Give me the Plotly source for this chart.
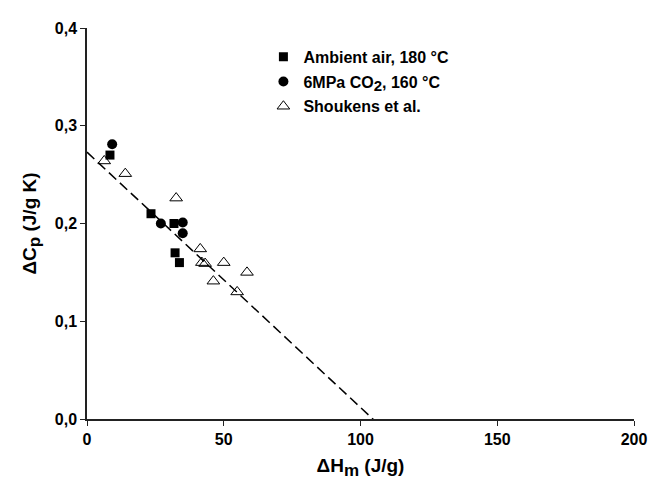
import plotly.graph_objects as go

# Data
air_x = [8.4, 23.4, 31.8, 32.2, 33.8]
air_y = [0.270, 0.210, 0.200, 0.170, 0.160]
co2_x = [9.2, 27.0, 35.0, 35.0]
co2_y = [0.281, 0.200, 0.201, 0.190]
shk_x = [6.3, 14.0, 32.6, 41.4, 42.0, 43.2, 50.0, 46.2, 58.5, 54.9]
shk_y = [0.264, 0.251, 0.226, 0.174, 0.160, 0.159, 0.160, 0.141, 0.150, 0.130]
fit_x = [0.0, 106.5]
fit_y = [0.273, -0.0052]

x_ticks = [0, 50, 100, 150, 200]
x_ticktext = ["0", "50", "100", "150", "200"]
y_ticks = [0.0, 0.1, 0.2, 0.3, 0.4]
y_ticktext = ["0,0", "0,1", "0,2", "0,3", "0,4"]

FONT = "Liberation Sans, Arial, sans-serif"

fig = go.Figure()
fig.add_trace(go.Scatter(x=fit_x, y=fit_y, mode="lines", showlegend=False,
                         line=dict(color="black", width=1.5, dash="10px,5px"),
                         cliponaxis=False))
fig.add_trace(go.Scatter(x=air_x, y=air_y, mode="markers", name="<b>Ambient air, 180 °C</b>",
                         legendgroup="a",
                         marker=dict(symbol="square", size=9, color="black")))
fig.add_trace(go.Scatter(x=co2_x, y=co2_y, mode="markers",
                         name="<b>6MPa CO<sub><span style='font-size:15px'>2</span></sub>, 160 °C</b>",
                         legendgroup="b",
                         marker=dict(symbol="circle", size=10, color="black")))
fig.add_trace(go.Scatter(x=shk_x, y=shk_y, mode="markers", name="<b>Shoukens et al.</b>",
                         legendgroup="c",
                         marker=dict(symbol="triangle-up-open", size=11, color="black",
                                     line=dict(width=1, color="black"))))

# the page body has an 8px margin, so the figure is sized/placed to compensate
fig.update_layout(
    width=651, height=478,
    margin=dict(l=79, r=17, t=12, b=67),
    paper_bgcolor="white", plot_bgcolor="white",
    font=dict(family=FONT, color="black", size=15),
    legend=dict(x=0.3225, y=0.97, xanchor="left", yanchor="top",
                bgcolor="rgba(0,0,0,0)", font=dict(size=16, family=FONT),
                traceorder="grouped", tracegroupgap=1, itemwidth=30),
    xaxis=dict(range=[0, 200], tickvals=x_ticks,
               ticktext=["<b>%s</b>" % t for t in x_ticktext],
               showgrid=False, zeroline=False, showline=True, linecolor="#222",
               linewidth=1.5, ticks="outside", ticklen=5, tickwidth=1.2, tickcolor="#222",
               tickfont=dict(size=16, family=FONT),
               title=dict(text="<b>ΔH<sub><span style='font-size:17px'>m</span></sub> (J/g)</b>",
                          font=dict(size=19, family=FONT), standoff=12)),
    yaxis=dict(range=[0, 0.4], tickvals=y_ticks,
               ticktext=["<b>%s</b>" % t for t in y_ticktext],
               showgrid=False, zeroline=False, showline=True, linecolor="#222",
               linewidth=1.5, ticks="outside", ticklen=5, tickwidth=1.2, tickcolor="#222",
               tickfont=dict(size=16, family=FONT),
               title=dict(text="<b>ΔC<sub><span style='font-size:17px'>p</span></sub> (J/g K)</b>",
                          font=dict(size=19, family=FONT), standoff=13)),
)

fig.write_html("out.html")
